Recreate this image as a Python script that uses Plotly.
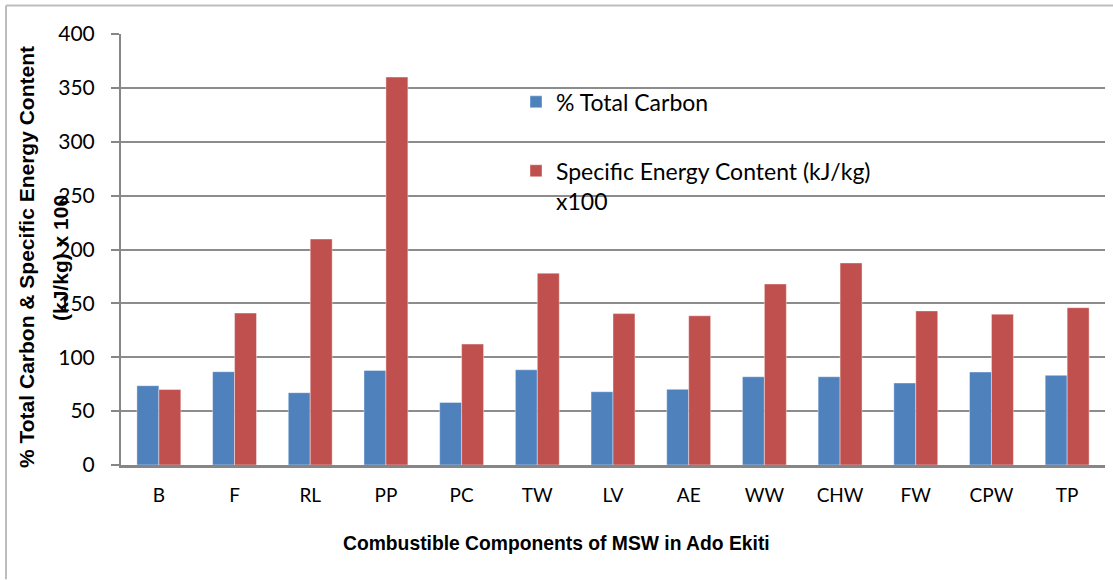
import plotly.graph_objects as go

categories = ["B", "F", "RL", "PP", "PC", "TW", "LV", "AE", "WW", "CHW", "FW", "CPW", "TP"]
total_carbon = [73.6, 86.6, 67.1, 87.8, 58.1, 88.4, 68.0, 70.2, 81.9, 81.9, 76.1, 86.3, 83.2]
energy_content = [70, 141, 209.7, 360, 112.2, 178, 140.5, 138.5, 168, 187.5, 143, 140, 146]
y_ticks = [0, 50, 100, 150, 200, 250, 300, 350, 400]

W, H = 1113, 580
L, R, T, B = 121, 8, 33.5, 114.5
pw, ph = W - L - R, H - T - B

def px(x):
    return (x - L) / pw

def py(y):
    return (H - B - y) / ph

fig = go.Figure()
fig.add_trace(go.Bar(
    x=categories, y=total_carbon, name="% Total Carbon",
    marker=dict(color="#4F81BD", line=dict(color="rgba(255,255,255,0.5)", width=0.8)),
    legendgroup="a",
))
fig.add_trace(go.Bar(
    x=categories, y=energy_content, name="Specific Energy Content (kJ/kg)<br>x100",
    marker=dict(color="#C0504D", line=dict(color="rgba(255,255,255,0.5)", width=0.8)),
    legendgroup="b",
))

font_main = "Lato, 'Open Sans', sans-serif"
font_title = "'Liberation Sans', Arial, sans-serif"

fig.update_layout(
    width=W, height=H,
    margin=dict(l=L, r=R, t=T, b=B, autoexpand=False),
    paper_bgcolor="white", plot_bgcolor="white",
    barmode="group", bargap=0.42, bargroupgap=0,
    font=dict(family=font_main, size=19, color="black"),
    legend=dict(
        x=px(516), y=py(80), xanchor="left", yanchor="top", valign="top",
        bgcolor="rgba(0,0,0,0)", font=dict(size=23, family=font_main),
        tracegroupgap=36, traceorder="grouped",
    ),
    xaxis=dict(
        showgrid=False, showline=True, linecolor="#868686", linewidth=2.5,
        ticks="", ticklabelstandoff=11, tickfont=dict(size=19),
        range=[-0.5, len(categories) - 0.5],
    ),
    yaxis=dict(
        range=[0, 400], tickvals=y_ticks, showgrid=True, gridcolor="#8c8c8c", gridwidth=1.5,
        showline=True, linecolor="#868686", linewidth=2, ticks="outside", ticklen=8,
        tickcolor="#868686", tickwidth=1.5, ticklabelstandoff=12, tickfont=dict(size=21),
        zeroline=False,
    ),
    shapes=[
        dict(type="line", xref="paper", yref="paper", x0=px(6), x1=px(1113), y0=py(5), y1=py(5),
             line=dict(color="#bdbdbd", width=2)),
        dict(type="line", xref="paper", yref="paper", x0=px(6), x1=px(6), y0=py(5), y1=py(580),
             line=dict(color="#bdbdbd", width=2)),
    ],
    annotations=[
        dict(text="<b>Combustible Components of MSW in Ado Ekiti</b>", xref="paper", yref="paper",
             x=px(556), y=py(544), xanchor="center", yanchor="middle", showarrow=False,
             font=dict(family=font_title, size=19.3, color="black")),
        dict(text="<b>% Total Carbon & Specific Energy Content</b>", xref="paper", yref="paper",
             x=px(27), y=py(257), xanchor="center", yanchor="middle", showarrow=False, textangle=-90,
             font=dict(family=font_title, size=21, color="black")),
        dict(text="<b>(kJ/kg) x 100</b>", xref="paper", yref="paper",
             x=px(61), y=py(258), xanchor="center", yanchor="middle", showarrow=False, textangle=-90,
             font=dict(family=font_title, size=21, color="black")),
    ],
)

fig.write_html(
    "out.html",
    config={"displayModeBar": False},
    post_script="document.body.style.margin='0';document.body.style.overflow='hidden';",
)
